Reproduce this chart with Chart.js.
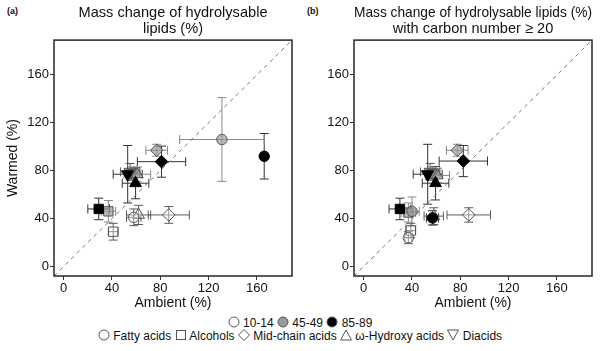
<!DOCTYPE html>
<html>
<head>
<meta charset="utf-8">
<script src="https://cdn.jsdelivr.net/npm/chart.js@4"></script>
<style>
  body { margin: 0; width: 600px; height: 351px; background: #fff; position: relative; overflow: hidden;
         font-family: "Liberation Sans", Arial, sans-serif; color: #111; }
  canvas { position: absolute; top: 0; }
  #ca { left: 0; }
  #cb { left: 300px; }
  .tag { position: absolute; top: 6px; font-size: 9px; font-weight: bold; }
  #legend { position: absolute; left: 0; width: 600px; top: 316px; font-size: 12px; text-align: center; line-height: 11px; }
  #legend svg { vertical-align: -1px; }
</style>
</head>
<body>
<div class="tag" style="left:7px">(a)</div>
<div class="tag" style="left:307px">(b)</div>
<canvas id="ca" width="300" height="312"></canvas>
<canvas id="cb" width="300" height="312"></canvas>
<div id="legend"><div id="l1"></div><div id="l2"></div></div>
<script>
const depths = ["10-14", "45-49", "85-89"];
const classes = ["Fatty acids", "Alcohols", "Mid-chain acids", "ω-Hydroxy acids", "Diacids"];
const tickVals = [0, 40, 80, 120, 160];

// 15 points per panel: depth by depth, classes in the order above
// (a) all hydrolysable lipids
const ambientA = [58, 41, 87, 62, 55,   131, 37, 77, 61, 57,   166, 29, 81, 59.5, 53];
const warmedA  = [41, 29, 43, 43, 79,   106, 46, 97, 77, 78,   92, 48, 87.5, 69.5, 77];
const ambErrA  = [6, 4, 17, 10, 8,   35, 6, 9, 11, 6,   1, 9, 20, 11, 12];
const warmErrA = [7, 7, 7, 8, 7,   35, 9, 5, 6, 5,   19, 9, 13, 13, 24];

// (b) carbon number >= 20
const ambientB = [37, 39, 87, 58, 55,   40, 37, 77.5, 61, 57,   57, 30, 82.5, 59.5, 53];
const warmedB  = [24, 30, 43, 42, 79,   46, 45, 97, 76, 78,   40.5, 48, 88, 69.5, 77];
const ambErrB  = [3, 4, 18, 8, 8,   6, 6, 9, 10, 6,   5, 9, 20, 11, 12];
const warmErrB = [5, 6, 6, 7, 7,   12, 8, 5, 6, 5,   6, 9, 13, 14, 25];

const fills = ["rgba(255,255,255,0.35)", "rgba(150,150,150,0.65)", "#000"];
const strokes = ["#555", "#555", "#000"];
const barCols = ["#5a5a5a", "#888", "#333"];
const pStyles = ["circle", "rect", "rectRot", "triangle", "triangle"];
const pRot = [0, 0, 0, 0, 180];
const pRad = [5.2, 6.6, 6.3, 6.8, 7];
const FONT = "'Liberation Sans', Arial, sans-serif";

const errorBars = {
  id: "errorBars",
  beforeDatasetsDraw(chart) {
    const { ctx, scales: { x, y } } = chart;
    ctx.save();
    ctx.lineWidth = 1;
    chart.data.datasets.forEach(ds => {
      if (ds.xErr == null) return;
      const p = ds.data[0];
      const cx = x.getPixelForValue(p.x), cy = y.getPixelForValue(p.y);
      const x0 = x.getPixelForValue(p.x - ds.xErr), x1 = x.getPixelForValue(p.x + ds.xErr);
      const y0 = y.getPixelForValue(p.y - ds.yErr), y1 = y.getPixelForValue(p.y + ds.yErr);
      const c = 4.5;
      ctx.strokeStyle = ds.barColor;
      ctx.beginPath();
      ctx.moveTo(x0, cy); ctx.lineTo(x1, cy);
      ctx.moveTo(x0, cy - c); ctx.lineTo(x0, cy + c);
      ctx.moveTo(x1, cy - c); ctx.lineTo(x1, cy + c);
      ctx.moveTo(cx, y0); ctx.lineTo(cx, y1);
      ctx.moveTo(cx - c, y0); ctx.lineTo(cx + c, y0);
      ctx.moveTo(cx - c, y1); ctx.lineTo(cx + c, y1);
      ctx.stroke();
    });
    ctx.restore();
  }
};

const frame = {
  id: "frame",
  afterDraw(chart) {
    const { ctx, chartArea: a } = chart;
    ctx.save();
    ctx.strokeStyle = "#333";
    ctx.lineWidth = 1.6;
    ctx.strokeRect(a.left, a.top, a.right - a.left, a.bottom - a.top);
    ctx.restore();
  }
};

function axis(title, show, isX) {
  return {
    type: "linear", min: -8, max: 189,
    afterBuildTicks: s => { s.ticks = tickVals.map(v => ({ value: v })); },
    afterFit: s => { if (isX) s.height = 36; else s.width = 54; },
    grid: { drawOnChartArea: false, drawTicks: true, tickLength: 4, color: "#333" },
    border: { display: false },
    ticks: { color: "#111", font: { size: 13, family: FONT }, padding: 1 },
    title: { display: show, text: title, color: "#111", font: { size: 14, family: FONT },
             padding: isX ? 0 : { top: 5, bottom: 0 } }
  };
}

function build(id, title, amb, war, ae, we, yTitle) {
  const sets = [];
  for (let d = 2; d >= 0; d--) {
    for (let c = 0; c < 5; c++) {
      const i = d * 5 + c;
      sets.push({
        type: "scatter",
        label: depths[d] + " " + classes[c],
        data: [{ x: amb[i], y: war[i] }],
        xErr: ae[i], yErr: we[i], barColor: barCols[d],
        pointStyle: pStyles[c], rotation: pRot[c], pointRadius: pRad[c],
        backgroundColor: fills[d], borderColor: strokes[d], borderWidth: 1
      });
    }
  }
  sets.push({
    type: "line", label: "1:1",
    data: [{ x: -8, y: -8 }, { x: 189, y: 189 }],
    borderColor: "#777", borderWidth: 1, borderDash: [4, 4], pointRadius: 0
  });
  new Chart(document.getElementById(id), {
    type: "scatter",
    data: { datasets: sets },
    options: {
      responsive: false, animation: false,
      layout: { padding: { left: 0, right: 8, top: 0, bottom: 0 } },
      plugins: {
        legend: { display: false }, tooltip: { enabled: false },
        title: { display: true, text: title, fullSize: false, color: "#111",
                 font: { size: 14.6, weight: "normal", family: FONT, lineHeight: 1.1 },
                 padding: { top: 5, bottom: 3 } }
      },
      scales: { x: axis("Ambient (%)", true, true), y: axis("Warmed (%)", yTitle, false) }
    },
    plugins: [errorBars, frame]
  });
}

build("ca", ["Mass change of hydrolysable", "lipids (%)"], ambientA, warmedA, ambErrA, warmErrA, true);
build("cb", ["Mass change of hydrolysable lipids (%)", "with carbon number \u2265 20"], ambientB, warmedB, ambErrB, warmErrB, false);

// legend
function sym(shape, fill) {
  const s = 'fill="' + fill + '" stroke="#555" stroke-width="1"';
  let body;
  if (shape === 0) body = '<circle cx="6" cy="6" r="5" ' + s + '/>';
  else if (shape === 1) body = '<rect x="1.5" y="1.5" width="9" height="9" ' + s + '/>';
  else if (shape === 2) body = '<polygon points="6,0.5 11.5,6 6,11.5 0.5,6" ' + s + '/>';
  else if (shape === 3) body = '<polygon points="6,1 11.5,11 0.5,11" ' + s + '/>';
  else body = '<polygon points="0.5,1 11.5,1 6,11" ' + s + '/>';
  return '<svg width="12" height="12">' + body + '</svg>';
}
const depthFills = ["#fff", "#999", "#000"];
document.getElementById("l1").innerHTML =
  depths.map((d, i) => sym(0, depthFills[i]) + " " + d).join(" ");
document.getElementById("l2").innerHTML =
  classes.map((c, i) => sym(i, "#fff") + " " + c).join(" ");
</script>
</body>
</html>
